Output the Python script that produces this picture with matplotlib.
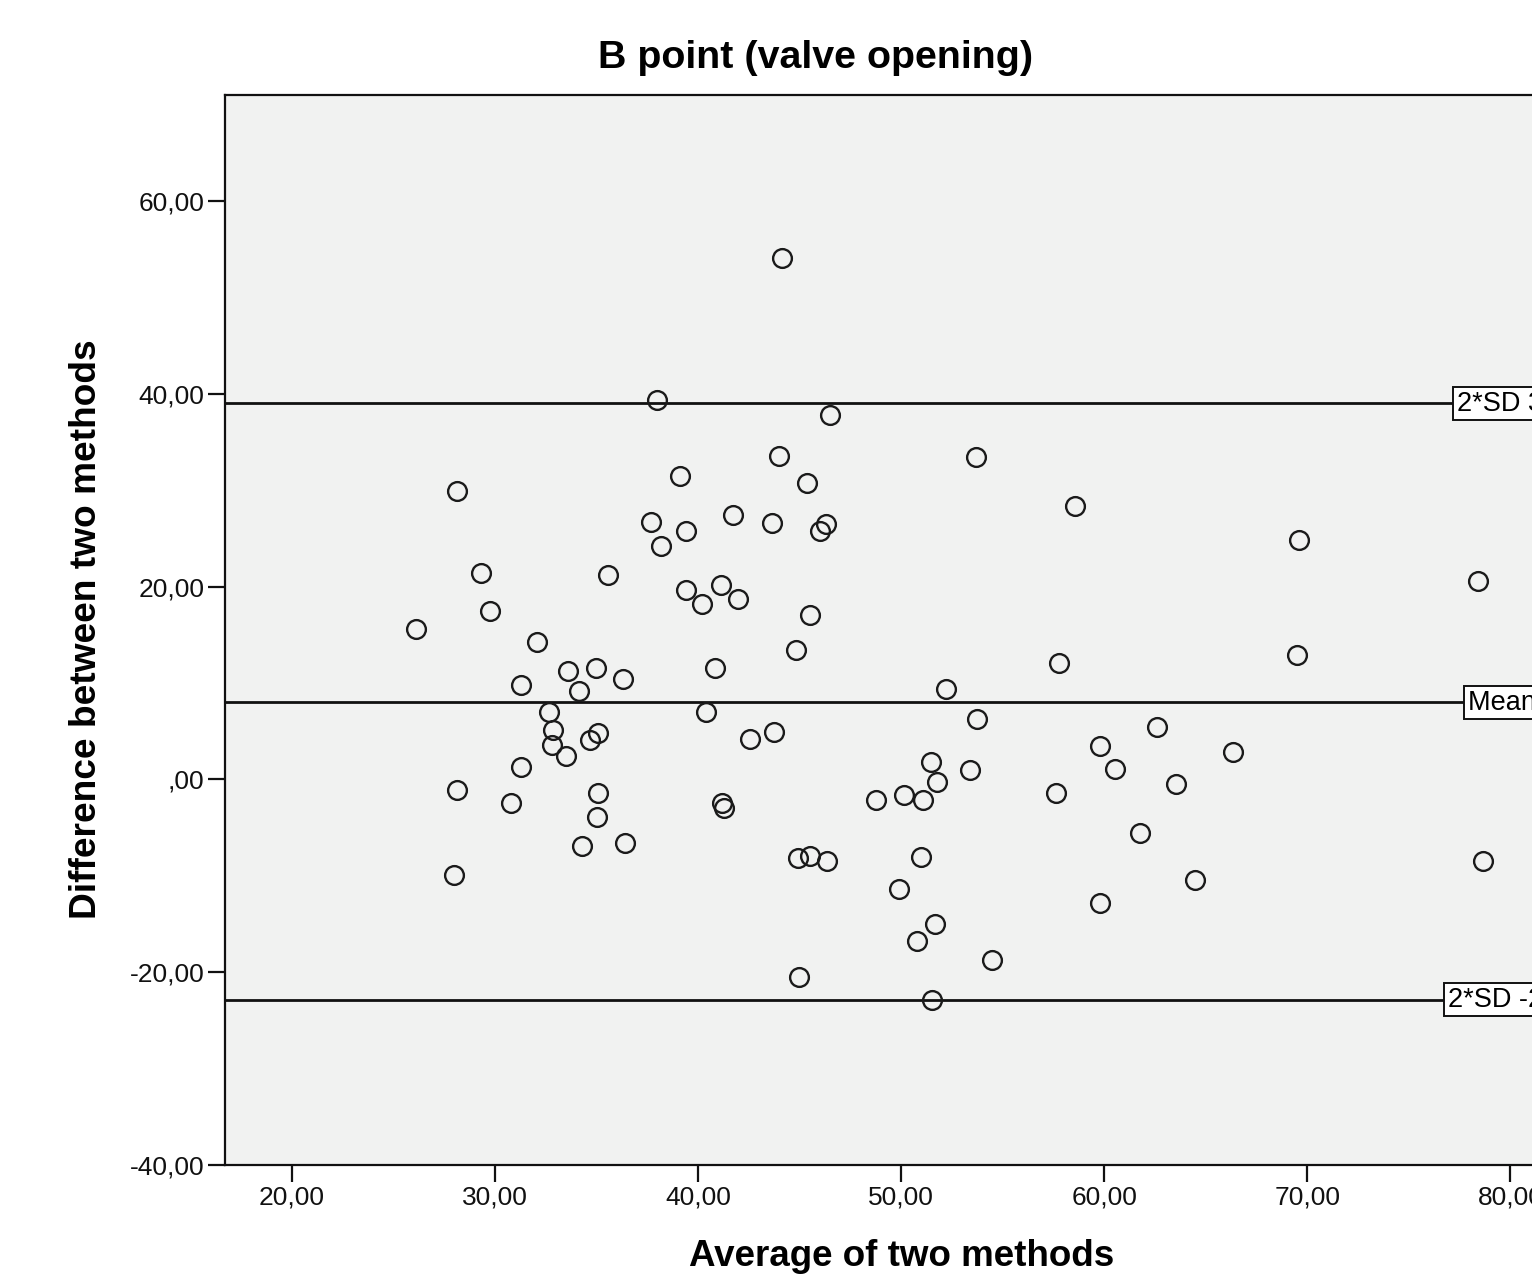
import matplotlib
matplotlib.use("Agg")
from matplotlib import pyplot as plt

plt.rcParams["font.family"] = ["Liberation Sans", "DejaVu Sans"]

# ----------------------
# Data
# ----------------------
avg = [44.14, 37.98, 46.50, 43.99, 53.69, 39.11, 45.37, 28.13, 58.57, 37.68,
       41.72, 43.65, 39.41, 46.31, 46.01, 69.61, 38.18, 29.31, 35.57, 78.42,
       41.13, 39.41, 41.97, 40.20, 29.75, 45.52, 26.11, 32.07, 44.83, 69.51,
       57.78, 33.60, 34.98, 40.84, 36.31, 31.28, 34.14, 52.22, 32.66, 40.39,
       53.74, 32.86, 35.07, 43.74, 34.68, 42.56, 32.81, 62.61, 59.80, 66.35,
       33.50, 51.48, 31.28, 53.40, 60.54, 51.77, 63.55, 28.13, 35.07, 57.64,
       50.15, 48.77, 51.08, 30.79, 41.18, 41.28, 35.02, 61.77, 36.40, 34.29,
       50.99, 44.93, 45.52, 46.35, 78.67, 27.98, 64.48, 49.90, 59.80, 51.67,
       50.79, 54.48, 44.98, 51.53]
diff = [54.05, 39.40, 37.76, 33.50, 33.40, 31.50, 30.80, 29.90, 28.40, 26.70,
        27.40, 26.60, 25.80, 26.50, 25.80, 24.80, 24.20, 21.40, 21.20, 20.60,
        20.20, 19.60, 18.70, 18.20, 17.50, 17.10, 15.60, 14.30, 13.40, 12.90,
        12.10, 11.20, 11.60, 11.60, 10.40, 9.75, 9.20, 9.40, 6.95, 6.95,
        6.30, 5.10, 4.80, 4.90, 4.05, 4.15, 3.60, 5.40, 3.50, 2.80,
        2.40, 1.80, 1.25, 0.95, 1.05, -0.30, -0.50, -1.05, -1.45, -1.45,
        -1.65, -2.10, -2.10, -2.40, -2.40, -3.00, -3.85, -5.60, -6.60, -6.95,
        -8.10, -8.20, -7.90, -8.50, -8.50, -9.95, -10.40, -11.40, -12.80, -15.00,
        -16.80, -18.70, -20.50, -22.90]

ref_values = [39.00, 8.02, -22.85]
ref_names = ["2*SD", "Mean", "2*SD"]

xticks = [20, 30, 40, 50, 60, 70, 80]
yticks = [-40, -20, 0, 20, 40, 60]


def spss_fmt(v):
    s = "%.2f" % v
    s = s.replace(".", ",")
    if s.startswith("0,"):
        s = s[1:]
    elif s.startswith("-0,"):
        s = "-" + s[2:]
    return s


# ---------------------------------
# Plotting
# ---------------------------------
W, H = 1532, 1277
fig = plt.figure(figsize=(W / 100, H / 100), dpi=100)

# axes box in pixels: left 225, right ~1600 (runs past the figure edge), top 95, bottom 1165
ax = fig.add_axes([225 / W, 1 - 1165 / H, (1600 - 225) / W, (1165 - 95) / H])
ax.set_facecolor("#f1f2f1")
ax.set_xlim(16.70, 84.41)
ax.set_ylim(-40, 71.0)

# reference lines, labels sit at the right end (cut by the figure edge as in the original)
for v, name in zip(ref_values, ref_names):
    ax.axhline(v, color="#111111", lw=2.0, zorder=2)
    ax.text(84.2, v, name + " " + spss_fmt(v), ha="right", va="center",
            fontsize=19.5, zorder=4, clip_on=False,
            bbox=dict(boxstyle="square,pad=0.13", fc="white", ec="#111111", lw=1.4))

ax.plot(avg, diff, "o", ms=13.5, mfc="none", mec="#1a1a1a", mew=1.7, zorder=3)

ax.set_xticks(xticks)
ax.set_xticklabels([spss_fmt(t) for t in xticks])
ax.set_yticks(yticks)
ax.set_yticklabels([spss_fmt(t) for t in yticks])
ax.tick_params(axis="both", direction="out", length=12, width=1.6, colors="#111111",
               labelsize=19, pad=3)

for side in ["left", "bottom", "top", "right"]:
    ax.spines[side].set_linewidth(1.6)
    ax.spines[side].set_color("#111111")

fig.text(816 / W, 1 - 58 / H, "B point (valve opening)", ha="center", va="center",
         fontsize=28.4, fontweight="bold")
fig.text(902 / W, 1 - 1256 / H, "Average of two methods", ha="center", va="center",
         fontsize=26.5, fontweight="bold")
fig.text(87 / W, 1 - 629 / H, "Difference between two methods", ha="center", va="center",
         rotation=90, fontsize=26.7, fontweight="bold")

plt.savefig("out.png", dpi=100)
